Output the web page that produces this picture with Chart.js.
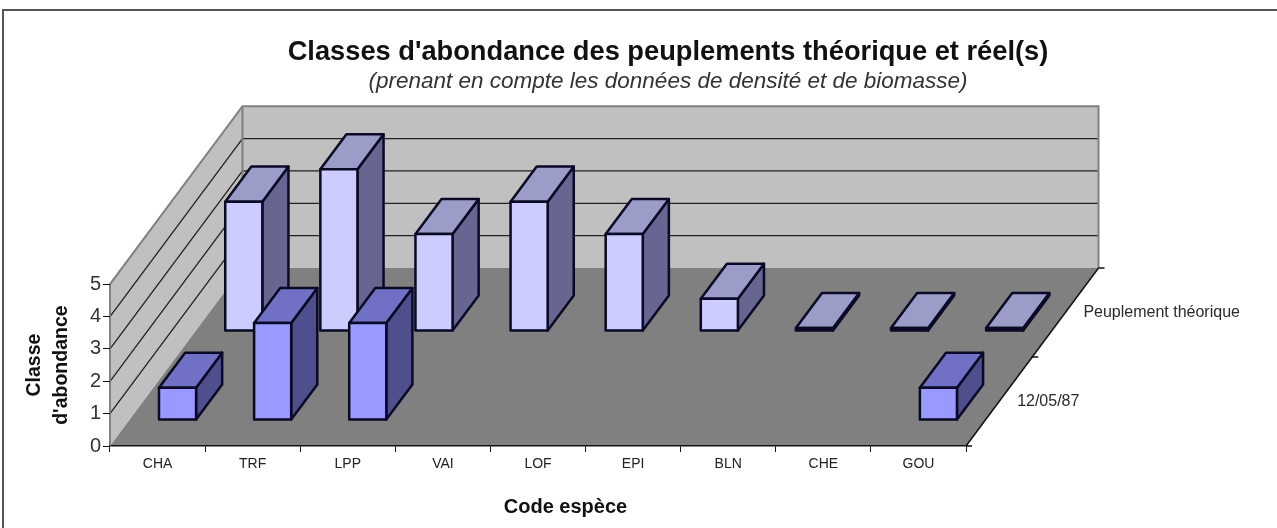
<!DOCTYPE html>
<html><head><meta charset="utf-8">
<style>html,body{margin:0;padding:0;background:#fff}canvas{display:block}</style>
<script src="https://cdn.jsdelivr.net/npm/chart.js@4"></script>
</head><body><canvas id="c" width="1277" height="528"></canvas>
<script>
const categories = ['CHA','TRF','LPP','VAI','LOF','EPI','BLN','CHE','GOU'];
const seriesNames = ['12/05/87','Peuplement théorique'];
const releve = [1,3,3,null,null,null,null,null,1];
const theorique = [4,5,3,4,3,1,0,0,0];
const yTicks = [0,1,2,3,4,5];
const titleText = "Classes d'abondance des peuplements théorique et réel(s)";
const subtitleText = "(prenant en compte les données de densité et de biomasse)";
const xTitleText = 'Code espèce';
const yTitleLines = ['Classe',"d'abondance"];
const FONT = '"Liberation Sans", Arial, sans-serif';
const DEPTH = {x:132.5, y:-178};
const BAR_DEPTH = 0.197;
const rows = 2;
const palette = [
  {front:'#9999FF', side:'#4F4F8E', top:'#7070C4'},
  {front:'#CCCCFF', side:'#666690', top:'#9C9CC8'}
];
const EDGE = '#0A0A26';
function rowFrac(i){ return (i+0.5)/rows - BAR_DEPTH/2 - 0.006; }

const scene = {
  id:'scene',
  beforeDraw(chart){
    const {ctx,chartArea:a,scales:{y}} = chart;
    const dx=DEPTH.x, dy=DEPTH.y, y0=y.getPixelForValue(0), yT=y.getPixelForValue(5);
    ctx.save();
    ctx.strokeStyle='#555'; ctx.lineWidth=2;
    ctx.beginPath(); ctx.moveTo(3,528); ctx.lineTo(3,10); ctx.lineTo(1277,10); ctx.stroke();
    const poly=(pts,fill)=>{ctx.fillStyle=fill;ctx.beginPath();pts.forEach((p,i)=>i?ctx.lineTo(p[0],p[1]):ctx.moveTo(p[0],p[1]));ctx.closePath();ctx.fill();};
    poly([[a.left,y0],[a.left,yT],[a.left+dx,yT+dy],[a.left+dx,y0+dy]],'#C0C0C0');
    poly([[a.left+dx,yT+dy],[a.right+dx,yT+dy],[a.right+dx,y0+dy],[a.left+dx,y0+dy]],'#C0C0C0');
    poly([[a.left,y0],[a.right,y0],[a.right+dx,y0+dy],[a.left+dx,y0+dy]],'#808080');
    ctx.lineWidth=1.3; ctx.strokeStyle='#222';
    yTicks.slice(1,-1).forEach(v=>{
      const p=y.getPixelForValue(v);
      ctx.beginPath(); ctx.moveTo(a.left,p); ctx.lineTo(a.left+dx,p+dy); ctx.lineTo(a.right+dx,p+dy); ctx.stroke();
    });
    ctx.lineWidth=2; ctx.strokeStyle='#808080';
    ctx.beginPath(); ctx.moveTo(a.left,y0); ctx.lineTo(a.left,yT); ctx.lineTo(a.left+dx,yT+dy); ctx.lineTo(a.right+dx,yT+dy); ctx.lineTo(a.right+dx,y0+dy); ctx.stroke();
    ctx.beginPath(); ctx.moveTo(a.left+dx,yT+dy); ctx.lineTo(a.left+dx,y0+dy); ctx.stroke();
    ctx.restore();
  },
  beforeDatasetDraw(chart,{index,meta}){
    const {ctx}=chart, f=rowFrac(index), c=palette[index];
    const ddx=DEPTH.x*BAR_DEPTH, ddy=DEPTH.y*BAR_DEPTH;
    ctx.save();
    ctx.translate(DEPTH.x*f+0.7,DEPTH.y*f);
    const data=chart.data.datasets[index].data;
    meta.data.forEach((el,i)=>{
      if(data[i]===null) return;
      const {x,y,base,width}=el.getProps(['x','y','base','width'],true);
      const l=x-width/2, r=x+width/2, t=Math.min(y,base), b=Math.max(y,base);
      ctx.lineWidth=2.5; ctx.strokeStyle=EDGE; ctx.lineJoin='round';
      ctx.fillStyle=c.side; ctx.beginPath();
      ctx.moveTo(r,t);ctx.lineTo(r+ddx,t+ddy);ctx.lineTo(r+ddx,b+ddy);ctx.lineTo(r,b);ctx.closePath();ctx.fill();ctx.stroke();
      ctx.fillStyle=c.top; ctx.beginPath();
      ctx.moveTo(l,t);ctx.lineTo(l+ddx,t+ddy);ctx.lineTo(r+ddx,t+ddy);ctx.lineTo(r,t);ctx.closePath();ctx.fill();ctx.stroke();
    });
  },
  afterDatasetDraw(chart,{index,meta}){
    const {ctx}=chart, data=chart.data.datasets[index].data;
    meta.data.forEach((el,i)=>{
      if(data[i]===null) return;
      const {x,y,base,width}=el.getProps(['x','y','base','width'],true);
      ctx.lineWidth=2.5; ctx.strokeStyle=EDGE; ctx.lineJoin='round';
      ctx.strokeRect(x-width/2,Math.min(y,base),width,Math.abs(base-y));
    });
    ctx.restore();
  },
  afterDraw(chart){
    const {ctx,chartArea:a,scales:{y}}=chart, y0=y.getPixelForValue(0);
    ctx.save();
    ctx.strokeStyle='#111'; ctx.lineWidth=1.5;
    ctx.beginPath(); ctx.moveTo(a.right,y0); ctx.lineTo(a.right+DEPTH.x,y0+DEPTH.y); ctx.stroke();
    [0,0.5,1].forEach(f=>{
      const px=a.right+DEPTH.x*f, py=y0+DEPTH.y*f;
      ctx.beginPath(); ctx.moveTo(px,py); ctx.lineTo(px+6,py); ctx.stroke();
    });
    ctx.fillStyle='#2A2A2A'; ctx.font='16px '+FONT; ctx.textBaseline='middle'; ctx.textAlign='left';
    seriesNames.forEach((n,i)=>{
      const f=(i+0.5)/rows;
      ctx.fillText(n,a.right+DEPTH.x*f+18,y0+DEPTH.y*f);
    });
    ctx.fillStyle='#111'; ctx.font='bold 20px '+FONT; ctx.textAlign='center';
    ctx.fillText(xTitleText,565.5,507);
    ctx.restore();
  }
};

new Chart(document.getElementById('c'),{
  type:'bar',
  plugins:[scene],
  data:{labels:categories,datasets:[
    {label:seriesNames[0],data:releve,backgroundColor:palette[0].front},
    {label:seriesNames[1],data:theorique,backgroundColor:palette[1].front,minBarLength:3}
  ].map(d=>Object.assign(d,{borderWidth:0,grouped:false,barPercentage:0.39,categoryPercentage:1,clip:false}))},
  options:{
    responsive:false,animation:false,
    layout:{padding:{left:10,right:-49,top:0,bottom:0}},
    plugins:{
      legend:{display:false},tooltip:{enabled:false},
      title:{display:true,text:titleText,color:'#111',font:{family:FONT,size:27.25,weight:'bold',lineHeight:1.2},padding:{top:36,bottom:0}},
      subtitle:{display:true,text:subtitleText,color:'#333',font:{family:FONT,size:22.5,style:'italic',lineHeight:1.2},padding:{top:0,bottom:188.5}}
    },
    scales:{
      x:{
        offset:true,
        grid:{display:true,drawOnChartArea:false,drawTicks:true,tickLength:6,color:'#111',offset:true},
        border:{display:true,color:'#111',width:1.5},
        ticks:{font:{family:FONT,size:14},color:'#222',padding:4,autoSkip:false,maxRotation:0},
        afterFit(s){s.height=82;}
      },
      y:{
        min:0,max:5,
        grid:{display:true,drawOnChartArea:false,tickLength:7,color:'#111'},
        border:{display:true,color:'#808080',width:1},
        ticks:{stepSize:1,font:{family:FONT,size:20},color:'#333',padding:2},
        title:{display:true,text:yTitleLines,color:'#111',font:{family:FONT,size:19.5,weight:'bold',lineHeight:1.38},padding:{top:11.5,bottom:2}},
        afterFit(s){s.width=100;}
      },
      yDepth:{
        position:'right',display:true,
        grid:{display:false},border:{display:false},ticks:{display:false},
        afterFit(s){s.width=360;}
      }
    }
  }
});
</script></body></html>
